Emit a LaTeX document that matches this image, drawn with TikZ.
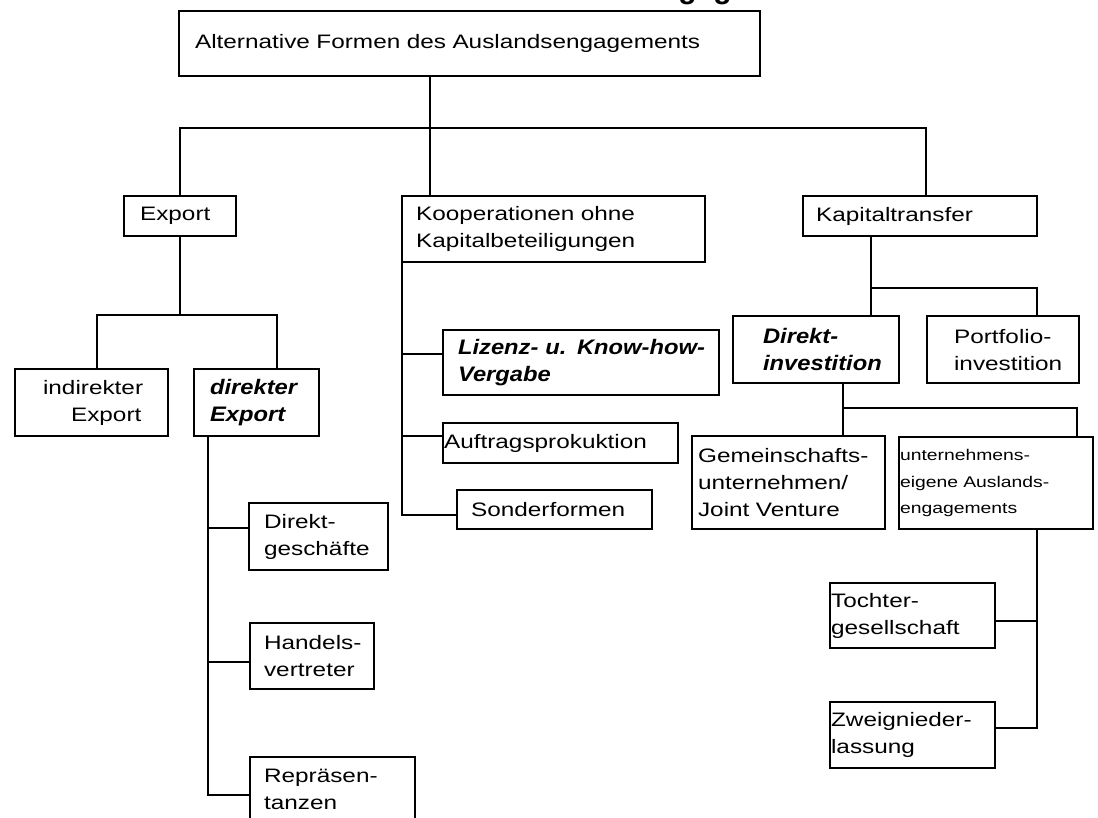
\documentclass[tikz,border=0pt]{standalone}
\usepackage{fontspec}
\newfontfamily\gfont[FakeStretch=1.25]{Liberation Sans}
\newfontfamily\bfontfam[FakeStretch=1.13]{Liberation Sans}
\newfontfamily\tfontfam{Liberation Sans}
\newcommand\regtxt{\gfont\fontsize{14.6pt}{20.25pt}\selectfont}
\newcommand\bitxt{\bfontfam\bfseries\itshape\fontsize{15.75pt}{20.25pt}\selectfont}
\newcommand\smtxt{\gfont\fontsize{11.6pt}{19.9pt}\selectfont}
\newcommand\indt[1]{\hspace*{#1}}
\hyphenpenalty=10000
\exhyphenpenalty=10000
\tikzset{
  box/.style={draw, line width=1.6pt, anchor=north west, inner sep=0pt, align=left, font=\regtxt},
  bi/.style={font=\bitxt},
  sm/.style={font=\smtxt},
  conn/.style={line width=1.6pt}
}
\begin{document}
\begin{tikzpicture}[x=0.75pt,y=-0.75pt]
\useasboundingbox (0,0) rectangle (1098,817);
\fill[white] (0,0) rectangle (1098,817);

% cut-off title at the top edge
\node[anchor=base west, inner sep=0pt, font=\tfontfam\bfseries\fontsize{22.5pt}{27pt}\selectfont] (title) at (508,-1.5) {Auslandsengagements};

% boxes
\node[box, text width=435.75pt, minimum height=48.75pt] (root) at (178,10) {\indt{12pt}Alternative Formen des Auslandsengagements};
\node[box, text width=84pt, minimum height=30pt] (export) at (123,195) {\indt{12pt}Export};
\node[box, text width=227.25pt, minimum height=49.5pt] (koop) at (401,195) {\indt{10.5pt}Kooperationen ohne\\\indt{10.5pt}Kapitalbeteiligungen};
\node[box, text width=175.5pt, minimum height=30pt] (kapital) at (802,195) {\indt{9.75pt}Kapitaltransfer};

\node[box, text width=114.75pt, minimum height=50.25pt] (indirekt) at (14,368) {\indt{21pt}indirekter\\\indt{42pt}Export};
\node[box, bi, text width=93.75pt, minimum height=50.25pt] (direkt) at (193,368) {\indt{12pt}direkter\\\indt{12pt}Export};

\node[box, text width=104.25pt, minimum height=50.25pt] (dg) at (248,502) {\indt{11.25pt}Direkt-\\\indt{11.25pt}gesch\"afte};
\node[box, text width=93pt, minimum height=49.5pt] (hv) at (249,622) {\indt{10.5pt}Handels-\\\indt{10.5pt}vertreter};
\node[box, text width=123.75pt, minimum height=48.75pt] (rp) at (249,756) {\indt{10.5pt}Repr\"asen-\\\indt{10.5pt}tanzen};

\node[box, bi, text width=207pt, minimum height=48.75pt] (lizenz) at (442,329) {\indt{11.25pt}Lizenz- u. Know-how-\\\indt{11.25pt}Vergabe};
\node[box, text width=176.25pt, minimum height=30pt] (auftrag) at (442,422) {\indt{0.75pt}Auftragsprokuktion};
\node[box, text width=146.25pt, minimum height=29.25pt] (sonder) at (456,489) {\indt{10.5pt}Sonderformen};

\node[box, bi, text width=124.5pt, minimum height=50.25pt] (dinv) at (732,315) {\indt{22.5pt}Direkt-\\\indt{22.5pt}investition};
\node[box, text width=114pt, minimum height=50.25pt] (portfolio) at (926,315) {\indt{20.25pt}Portfolio-\\\indt{20.25pt}investition};

\node[box, text width=144.75pt, minimum height=69.75pt] (gemein) at (691,435) {\indt{4.5pt}Gemeinschafts-\\\indt{4.5pt}unternehmen/\\\indt{4.5pt}Joint Venture};
\node[box, sm, text width=145.5pt, minimum height=69pt] (eigen) at (898,436) {\indt{0.75pt}unternehmens-\\\indt{0.75pt}eigene Auslands-\\\indt{0.75pt}engagements};

\node[box, text width=123.75pt, minimum height=48.75pt] (tochter) at (829,582) {\indt{0.75pt}Tochter-\\\indt{0.75pt}gesellschaft};
\node[box, text width=123.75pt, minimum height=49.5pt] (zweig) at (829,701) {\indt{0.75pt}Zweignieder-\\\indt{0.75pt}lassung};

% connector coordinates
\coordinate (b1) at (430,128);
\coordinate (b2) at (926,128);
\coordinate (e1) at (97,315);
\coordinate (e2) at (277,315);
\coordinate (d0) at (208,528);
\coordinate (d1) at (208,662);
\coordinate (d2) at (208,795);
\coordinate (k1) at (402,354);
\coordinate (k2) at (402,436);
\coordinate (k3) at (402,515);
\coordinate (c1) at (871,288);
\coordinate (c2) at (1037,288);
\coordinate (g1) at (843,408);
\coordinate (g2) at (1077,408);
\coordinate (h1) at (1037,621);
\coordinate (h2) at (1037,728);

% connectors
\draw[conn] (root.south -| b1) -- (b1);
\draw[conn] (export.north) |- (b2) -- (kapital.north -| b2);
\draw[conn] (b1) -- (koop.north -| b1);

\draw[conn] (export.south) -- (export.south |- e1);
\draw[conn] (indirekt.north -| e1) |- (e2) -- (direkt.north -| e2);

\draw[conn] (direkt.south -| d2) -- (d2) -- (rp.west |- d2);
\draw[conn] (d0) -- (dg.west |- d0);
\draw[conn] (d1) -- (hv.west |- d1);

\draw[conn] (koop.south -| k3) -- (k3) -- (sonder.west |- k3);
\draw[conn] (k1) -- (lizenz.west |- k1);
\draw[conn] (k2) -- (auftrag.west |- k2);

\draw[conn] (kapital.south -| c1) -- (c1) -- (c2) -- (portfolio.north -| c2);
\draw[conn] (c1) -- (dinv.north -| c1);

\draw[conn] (dinv.south -| g1) -- (g1) -- (g2) -- (eigen.north -| g2);
\draw[conn] (g1) -- (gemein.north -| g1);

\draw[conn] (eigen.south -| h1) -- (h2) -- (zweig.east |- h2);
\draw[conn] (h1) -- (tochter.east |- h1);
\end{tikzpicture}
\end{document}
